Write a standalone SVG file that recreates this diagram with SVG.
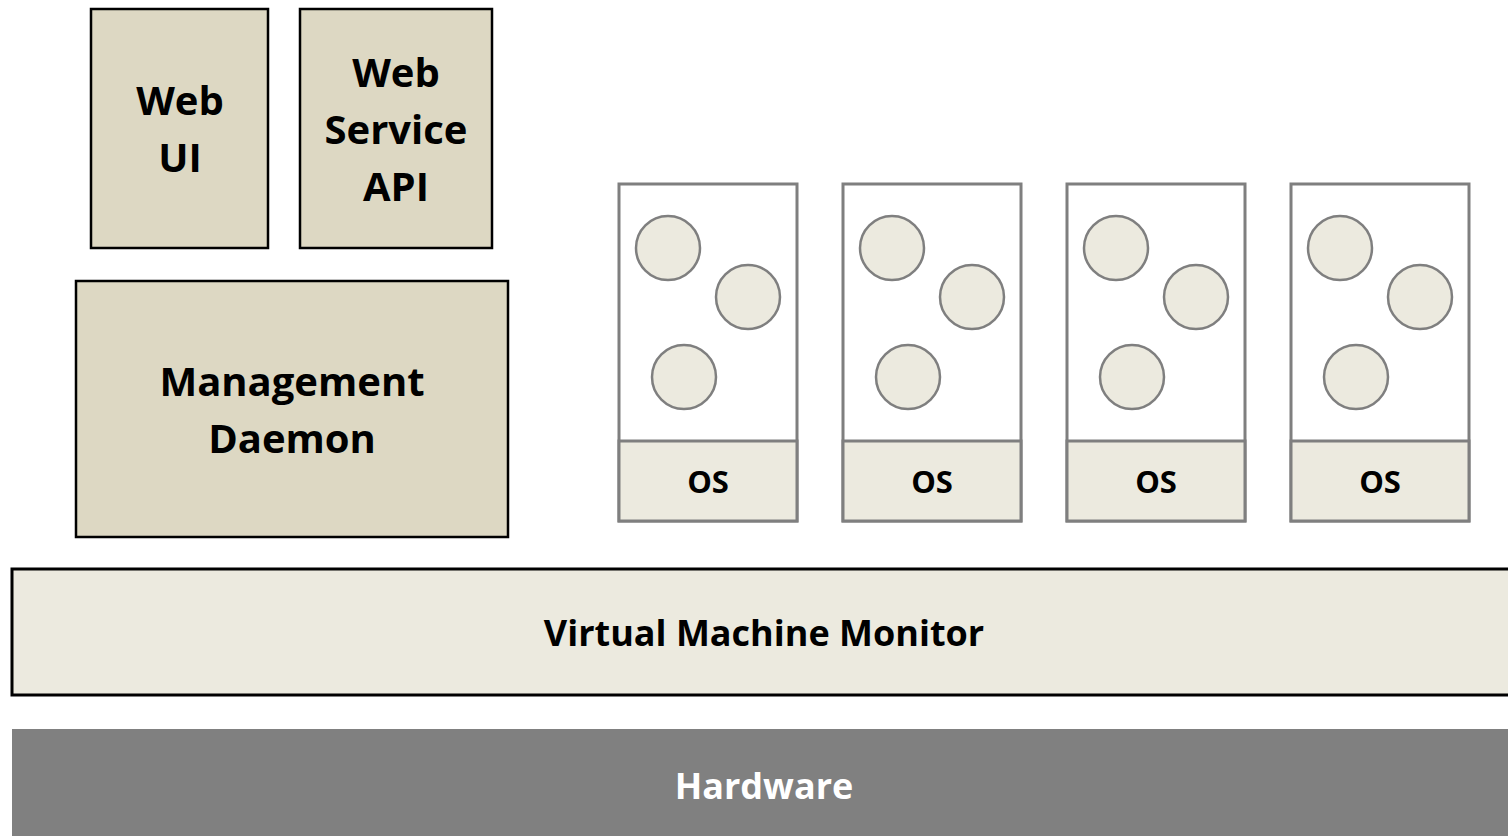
<svg xmlns="http://www.w3.org/2000/svg" width="1508" height="836" viewBox="0 0 1508 836">
  <style>
    .lbl { font-family: "Open Sans", "Liberation Sans", sans-serif; font-weight: bold; font-size: 36px; text-anchor: middle; fill: #000; }
    .big { font-size: 40px; }
    .os { font-family: "Open Sans", "Liberation Sans", sans-serif; font-weight: bold; font-size: 31px; text-anchor: middle; fill: #000; }
    .mgmt { fill: #DDD8C3; stroke: #000; stroke-width: 2.5; }
    .vm { fill: #FFFFFF; stroke: #7F7F7F; stroke-width: 3; }
    .osbar { fill: #ECEADF; stroke: #7F7F7F; stroke-width: 3; }
    .proc { fill: #ECEADF; stroke: #7F7F7F; stroke-width: 2.5; }
  </style>
  <defs>
    <!-- one guest VM: process circles over an OS strip -->
    <g id="guest">
      <rect class="vm" x="0" y="0" width="178" height="337"/>
      <rect class="osbar" x="0" y="257" width="178" height="80"/>
      <circle class="proc" cx="49" cy="64" r="32"/>
      <circle class="proc" cx="129" cy="113" r="32"/>
      <circle class="proc" cx="65" cy="193" r="32"/>
      <text class="os" x="89" y="309">OS</text>
    </g>
  </defs>

  <rect width="1508" height="836" fill="#FFFFFF"/>

  <g id="web-ui">
    <rect class="mgmt" x="91" y="9" width="177" height="239"/>
    <text class="lbl big" x="180" y="115">Web</text>
    <text class="lbl big" x="180" y="172">UI</text>
  </g>

  <g id="web-service-api">
    <rect class="mgmt" x="300" y="9" width="192" height="239"/>
    <text class="lbl big" x="396" y="87">Web</text>
    <text class="lbl big" x="396" y="144">Service</text>
    <text class="lbl big" x="396" y="201">API</text>
  </g>

  <g id="management-daemon">
    <rect class="mgmt" x="76" y="281" width="432" height="256"/>
    <text class="lbl big" x="292" y="396">Management</text>
    <text class="lbl big" x="292" y="453">Daemon</text>
  </g>

  <g id="vm-1"><use href="#guest" x="619" y="184"/></g>
  <g id="vm-2"><use href="#guest" x="843" y="184"/></g>
  <g id="vm-3"><use href="#guest" x="1067" y="184"/></g>
  <g id="vm-4"><use href="#guest" x="1291" y="184"/></g>

  <g id="vmm">
    <rect x="12" y="569" width="1510" height="126" fill="#ECEADF" stroke="#000" stroke-width="3"/>
    <text class="lbl" x="764" y="646">Virtual Machine Monitor</text>
  </g>

  <g id="hardware">
    <rect x="12" y="729" width="1510" height="120" fill="#808080"/>
    <text class="lbl" x="764" y="799" style="fill:#FFFFFF">Hardware</text>
  </g>

  <g id="connectors"></g>
</svg>
